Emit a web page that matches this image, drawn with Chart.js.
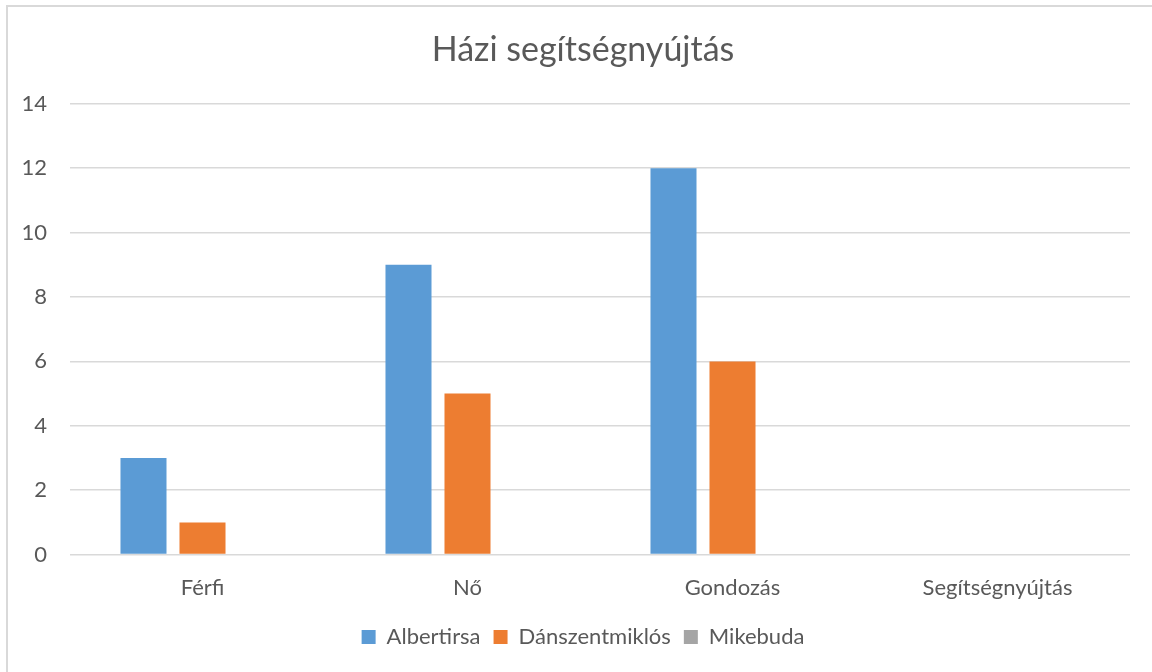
<!DOCTYPE html>
<html>
<head>
<meta charset="utf-8">
<script src="https://cdn.jsdelivr.net/npm/chart.js@4"></script>
<style>
html,body{margin:0;padding:0;background:#fff;overflow:hidden;}
#frame{position:absolute;left:6px;top:5px;width:1200px;height:720px;border-left:2px solid #d9d9d9;border-top:2px solid #d9d9d9;box-sizing:border-box;}
#wrap{position:absolute;left:0;top:0;width:1152px;height:672px;}
</style>
</head>
<body>
<div id="frame"></div>
<div id="wrap"><canvas id="c" width="1152" height="672"></canvas></div>
<script>
const categories = ["Férfi", "Nő", "Gondozás", "Segítségnyújtás"];
const albertirsa = [3, 9, 12, 0];
const danszentmiklos = [1, 5, 6, 0];
const mikebuda = [0, 0, 0, 0];
const yTicks = [0, 2, 4, 6, 8, 10, 12, 14];
const titleText = "Házi segítségnyújtás";

const FONT = "Lato, 'Open Sans', sans-serif";
const TXT = "#595959";

new Chart(document.getElementById('c'), {
  type: 'bar',
  data: {
    labels: categories,
    datasets: [
      {label: "Albertirsa", data: albertirsa, backgroundColor: "#5B9BD5"},
      {label: "Dánszentmiklós", data: danszentmiklos, backgroundColor: "#ED7D31"},
      {label: "Mikebuda", data: mikebuda, backgroundColor: "#A5A5A5"}
    ]
  },
  options: {
    responsive: false,
    animation: false,
    devicePixelRatio: 1,
    categoryPercentage: 0.668,
    barPercentage: 0.78,
    layout: {padding: {left: 36, right: 22, top: 0, bottom: 14}},
    plugins: {
      title: {display: true, text: titleText, color: TXT, font: {family: FONT, size: 34, weight: 'normal'}, padding: {top: 30, bottom: 33}},
      legend: {position: 'bottom', labels: {color: TXT, font: {family: FONT, size: 22}, boxWidth: 14, boxHeight: 14, padding: 13}},
      tooltip: {enabled: false}
    },
    scales: {
      x: {
        grid: {display: false},
        border: {display: false},
        ticks: {color: TXT, font: {family: FONT, size: 22}, padding: 12}
      },
      y: {
        min: 0, max: 14,
        afterFit: s => { s.width = 34; s._computeLabelArea = () => undefined; },
        afterBuildTicks: s => { s.ticks = yTicks.map(v => ({value: v})); },
        grid: {color: "#d9d9d9", lineWidth: 1.5, drawTicks: false},
        border: {display: false},
        ticks: {color: TXT, font: {family: FONT, size: 22}, padding: 23}
      }
    }
  }
});
</script>
</body>
</html>
